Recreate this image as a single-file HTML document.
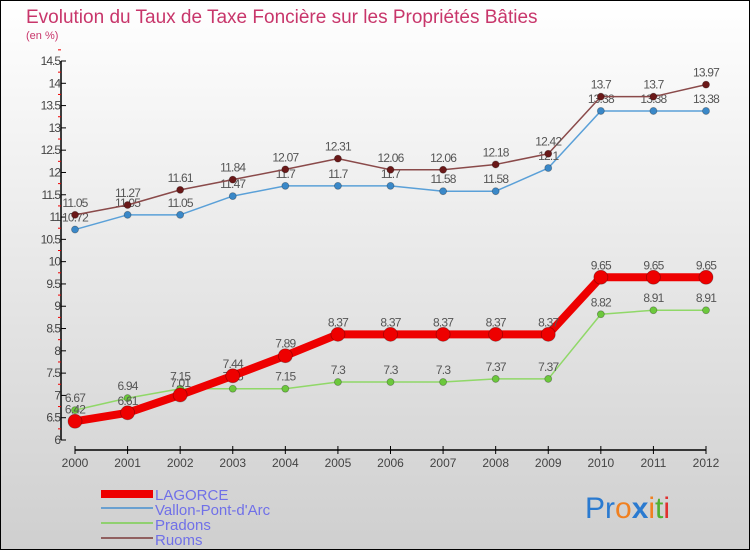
<!DOCTYPE html>
<html><head><meta charset="utf-8"><style>
html,body{margin:0;padding:0}
body{width:750px;height:550px;overflow:hidden;font-family:"Liberation Sans",sans-serif}
#wrap{position:relative;width:748px;height:548px;border:1px solid #000;background:linear-gradient(#ffffff,#cfcfcf)}
</style></head><body>
<div id="wrap">
<svg id="chart" width="748" height="548" xmlns="http://www.w3.org/2000/svg">
<text x="25" y="22" font-size="19" fill="#c8366b">Evolution du Taux de Taxe Foncière sur les Propriétés Bâties</text>
<text x="25" y="38" font-size="11" fill="#c8366b">(en %)</text>
<g id="axes"></g><g id="series"></g>
<g>
<rect x="100" y="489" width="52" height="8" fill="#ee0000"/>
<text x="154" y="499" font-size="15" fill="#7070e8">LAGORCE</text>
<rect x="100" y="506" width="52" height="2" fill="#6aa0d0"/>
<text x="154" y="514" font-size="15" fill="#7070e8">Vallon-Pont-d'Arc</text>
<rect x="100" y="521" width="52" height="2" fill="#90d070"/>
<text x="154" y="529" font-size="15" fill="#7070e8">Pradons</text>
<rect x="100" y="536" width="52" height="2" fill="#906060"/>
<text x="154" y="544" font-size="15" fill="#7070e8">Ruoms</text>
</g>
<text x="584" y="517" font-size="30"><tspan fill="#2a7ad0">Pr</tspan><tspan fill="#f08020">o</tspan><tspan fill="#2a7ad0" font-weight="bold">x</tspan><tspan fill="#f08020">i</tspan><tspan fill="#50b030">t</tspan><tspan fill="#e03030">i</tspan></text>
</svg></div>
<script>
const years=[2000,2001,2002,2003,2004,2005,2006,2007,2008,2009,2010,2011,2012];
const yTicks=[6,6.5,7,7.5,8,8.5,9,9.5,10,10.5,11,11.5,12,12.5,13,13.5,14,14.5];
const lagorce=[6.42,6.61,7.01,7.44,7.89,8.37,8.37,8.37,8.37,8.37,9.65,9.65,9.65];
const vallon=[10.72,11.05,11.05,11.47,11.7,11.7,11.7,11.58,11.58,12.1,13.38,13.38,13.38];
const pradons=[6.67,6.94,7.15,7.15,7.15,7.3,7.3,7.3,7.37,7.37,8.82,8.91,8.91];
const ruoms=[11.05,11.27,11.61,11.84,12.07,12.31,12.06,12.06,12.18,12.42,13.7,13.7,13.97];
const NS="http://www.w3.org/2000/svg";
const x0=74,x1=705,yMin=6,yMax=14.5,py0=439,py1=60,axX=60;
const X=i=>x0+(x1-x0)*i/(years.length-1);
const Y=v=>py0-(v-yMin)/(yMax-yMin)*(py0-py1);
function mk(tag,at,parent){const e=document.createElementNS(NS,tag);for(const k in at)e.setAttribute(k,at[k]);parent.appendChild(e);return e;}
const axes=document.getElementById('axes'),ser=document.getElementById('series');
let e=mk('line',{x1:axX,y1:py1,x2:axX,y2:py0,stroke:'#000','stroke-width':1.5},axes);


yTicks.forEach(t=>{const y=Y(t);
 mk('line',{x1:axX,y1:y,x2:axX+5,y2:y,stroke:'#000'},axes);
 mk('line',{x1:axX-3,y1:Y(t+0.25),x2:axX,y2:Y(t+0.25),stroke:'#e00'},axes);
 const tx=mk('text',{x:axX-1,y:y+4,'font-size':12,'text-anchor':'end',fill:'#444','letter-spacing':'-1'},axes);
 tx.textContent=String(t);
 
 });
e=mk('line',{x1:x0,y1:449,x2:x1,y2:449,stroke:'#000','stroke-width':1.5},axes);


years.forEach((yr,i)=>{mk('line',{x1:X(i),y1:445,x2:X(i),y2:453,stroke:'#000'},axes);
 const tx=mk('text',{x:X(i),y:466,'font-size':12,'text-anchor':'middle',fill:'#444'},axes);
 tx.textContent=yr;
 
 });
function draw(vals,color,dot,w,r,name){
 const g=mk('g',{},ser);
 
 
 const pl=mk('polyline',{points:vals.map((v,i)=>X(i)+','+Y(v)).join(' '),fill:'none',stroke:color,'stroke-width':w,'stroke-linejoin':'round'},g);
 
 
 vals.forEach((v,i)=>{const c=mk('circle',{cx:X(i),cy:Y(v),r:r,fill:dot,stroke:'rgba(0,0,0,0.3)','stroke-width':0.8},g);
  
  
  const t=mk('text',{x:X(i),y:Y(v)-8,'font-size':12,'text-anchor':'middle',fill:'#555','letter-spacing':'-0.8'},g);
  t.textContent=String(v);
  
  });
}
draw(pradons,'#90d868','#6cc83c',1.5,3.5,'pradons');
draw(vallon,'#5aa0d8','#3a88c8',1.5,3.5,'vallon');
draw(ruoms,'#8a4a4a','#6a1818',1.5,3.5,'ruoms');
draw(lagorce,'#ee0000','#ee0000',8,7,'lagorce');
</script>
</body></html>
